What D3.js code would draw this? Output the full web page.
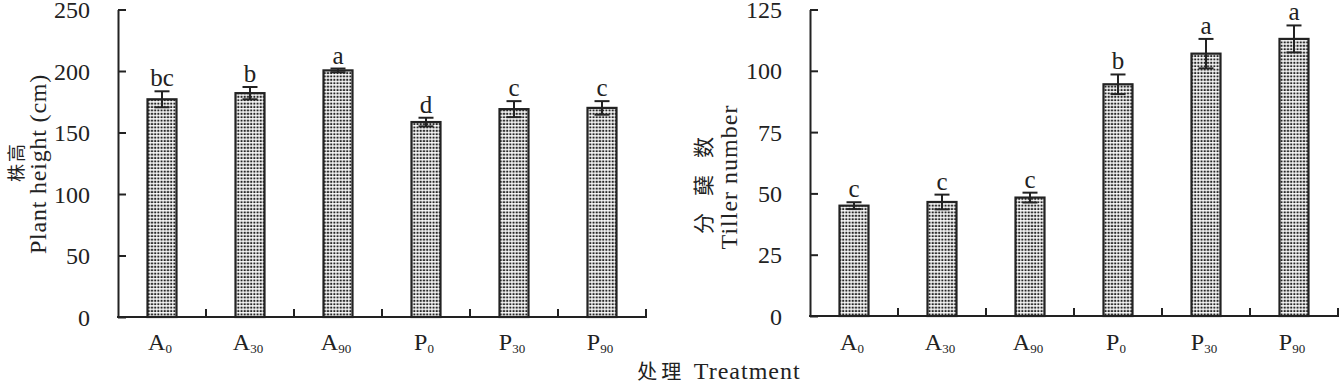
<!DOCTYPE html>
<html><head><meta charset="utf-8">
<script src="https://cdn.jsdelivr.net/npm/d3@7"></script>
<style>
body{margin:0;background:#fff;}
text{font-family:"Liberation Serif","Times New Roman",serif;fill:#222;}
.cjk{font-family:"Noto Sans CJK SC",sans-serif;}
</style></head>
<body>
<svg id="chart" width="1341" height="381"></svg>
<script>
const categories = ["A0","A30","A90","P0","P30","P90"];
const catMain = ["A","A","A","P","P","P"];
const catSub = ["0","30","90","0","30","90"];
const heightValues = [177, 182, 200.5, 158.5, 169, 170];
const heightErrors = [6.5, 5, 1.5, 3.5, 6.5, 5.5];
const heightLetters = ["bc","b","a","d","c","c"];
const heightTicks = [0,50,100,150,200,250];
const tillerValues = [45, 46.5, 48.3, 94.5, 107, 113];
const tillerErrors = [1.4, 3, 2, 4, 6, 5.5];
const tillerLetters = ["c","c","c","b","a","a"];
const tillerTicks = [0,25,50,75,100,125];

const svg = d3.select("#chart");
const defs = svg.append("defs");
const pat = defs.append("pattern").attr("id","dots").attr("patternUnits","userSpaceOnUse")
  .attr("width",3.2).attr("height",3.4);
pat.append("rect").attr("width",3.2).attr("height",3.4).attr("fill","#fff");
pat.append("rect").attr("x",0.5).attr("y",0.6).attr("width",2.1).attr("height",2).attr("fill","#262626");

const ink = "#222";

function panel(opt){
  const g = svg.append("g");
  const y = d3.scaleLinear().domain([0, opt.max]).range([opt.yb, opt.yt]);
  const x = d3.scaleBand().domain(categories).range([opt.x0, opt.x1]).padding(0);
  const bw = 29;
  const yAxis = d3.axisLeft(y).tickValues(opt.ticks).tickSize(-8).tickPadding(28).tickSizeOuter(0);
  const ya = g.append("g").attr("transform",`translate(${opt.x0},0)`).call(yAxis);
  ya.select(".domain").attr("stroke",ink).attr("stroke-width",2);
  ya.selectAll(".tick line").attr("stroke",ink).attr("stroke-width",2);
  ya.selectAll(".tick text").attr("font-size",24).attr("font-family","Liberation Serif").attr("fill",ink).attr("dy","0.34em");
  g.append("line").attr("x1",opt.x0-1).attr("x2",opt.x1+1).attr("y1",opt.yb).attr("y2",opt.yb)
    .attr("stroke",ink).attr("stroke-width",2);
  g.selectAll(".ct").data(categories).enter().append("line")
    .attr("x1",d=>x(d)+x.step()).attr("x2",d=>x(d)+x.step())
    .attr("y1",opt.yb).attr("y2",opt.yb-8).attr("stroke",ink).attr("stroke-width",2);
  g.selectAll(".bar").data(categories).enter().append("rect")
    .attr("x",d=>x(d)+x.bandwidth()/2-bw/2)
    .attr("y",(d,i)=>y(opt.values[i]))
    .attr("width",bw)
    .attr("height",(d,i)=>y(0)-y(opt.values[i]))
    .attr("fill","url(#dots)").attr("stroke",ink).attr("stroke-width",2.2);
  const cap = 15;
  categories.forEach((d,i)=>{
    const cx = x(d)+x.bandwidth()/2;
    const top = y(opt.values[i]+opt.errors[i]);
    const bot = y(opt.values[i]-opt.errors[i]);
    g.append("line").attr("x1",cx).attr("x2",cx).attr("y1",top).attr("y2",bot).attr("stroke",ink).attr("stroke-width",2);
    g.append("line").attr("x1",cx-cap/2).attr("x2",cx+cap/2).attr("y1",top).attr("y2",top).attr("stroke",ink).attr("stroke-width",2);
    g.append("line").attr("x1",cx-cap/2).attr("x2",cx+cap/2).attr("y1",bot).attr("y2",bot).attr("stroke",ink).attr("stroke-width",2);
    g.append("text").attr("x",cx).attr("y",top-5).attr("text-anchor","middle").attr("font-size",25).text(opt.letters[i]);
    const t = g.append("text").attr("x",cx-2).attr("y",350).attr("text-anchor","middle").attr("font-size",24);
    t.append("tspan").text(catMain[i]);
    t.append("tspan").attr("font-size",13).attr("dy",3).text(catSub[i]);
  });
  g.append("text").attr("class","cjk").attr("transform",`translate(${opt.t1x},${opt.t1y}) rotate(-90)`)
    .attr("text-anchor","middle").attr("font-size",opt.t1fs).attr("letter-spacing",opt.t1ls).text(opt.title1);
  g.append("text").attr("transform",`translate(${opt.t2x},${opt.t2y}) rotate(-90)`)
    .attr("text-anchor","middle").attr("font-size",24).attr("letter-spacing",opt.t2ls).text(opt.title2);
}

panel({x0:118,x1:646,yt:9.5,yb:317,max:250,ticks:heightTicks,values:heightValues,errors:heightErrors,letters:heightLetters,
  title1:"株高",title2:"Plant height (cm)",t1x:23,t1y:162,t1fs:18,t1ls:2,t2x:46,t2y:164,t2ls:0.8});
panel({x0:810,x1:1338,yt:9.5,yb:316,max:125,ticks:tillerTicks,values:tillerValues,errors:tillerErrors,letters:tillerLetters,
  title1:"分蘖数",title2:"Tiller number",t1x:711,t1y:177,t1fs:21,t1ls:17,t2x:737,t2y:177,t2ls:1});

const xt = svg.append("text").attr("x",719).attr("y",379).attr("text-anchor","middle").attr("font-size",24).attr("letter-spacing",1);
xt.append("tspan").attr("class","cjk").attr("font-size",20).attr("letter-spacing",4).text("处理 ");
xt.append("tspan").text("Treatment");
</script>
</body></html>
